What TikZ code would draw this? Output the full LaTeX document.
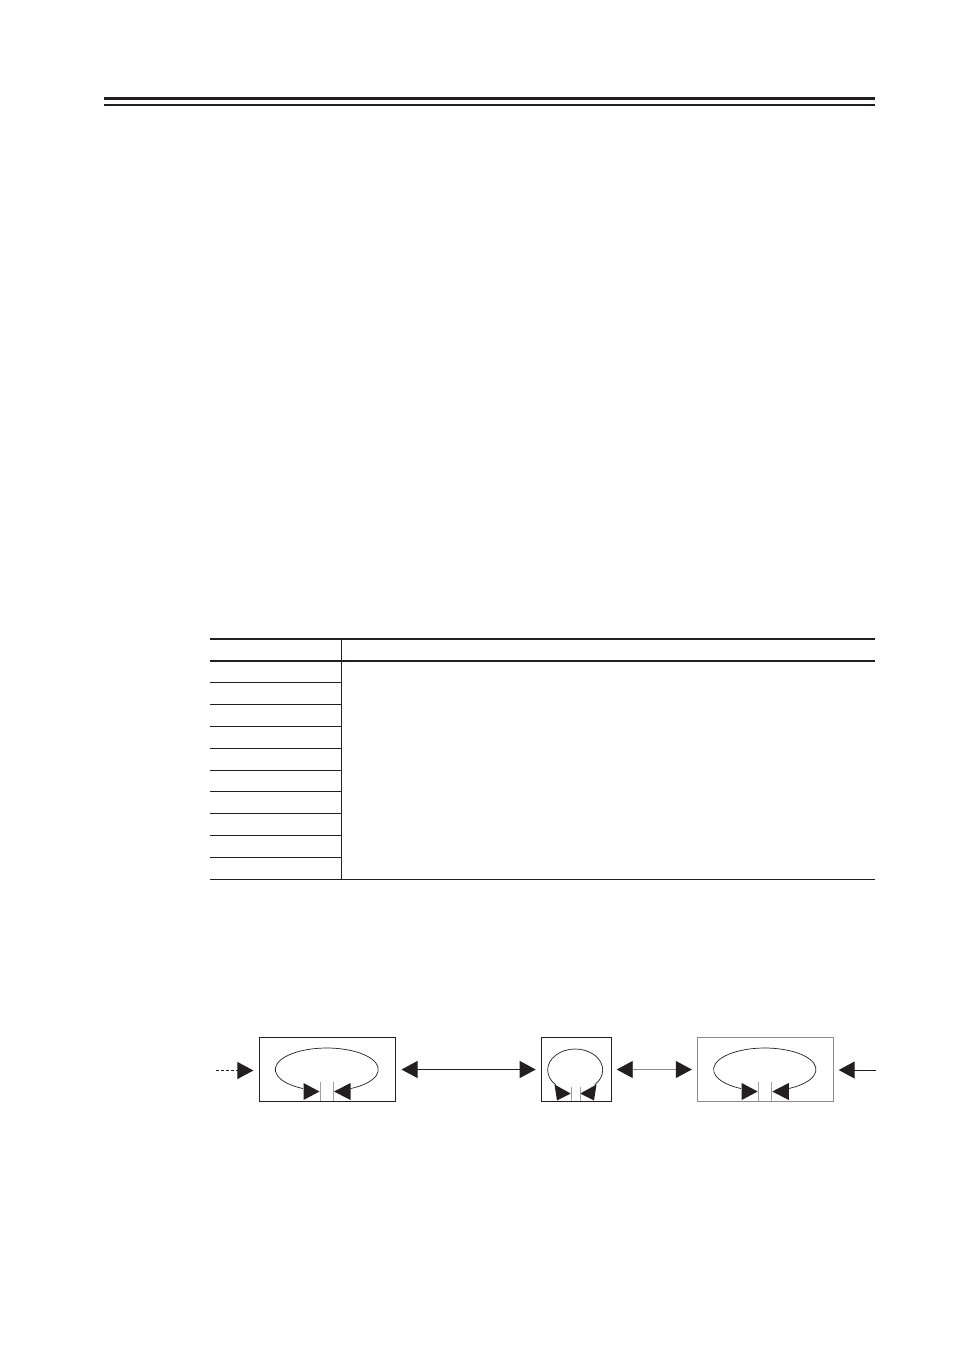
\documentclass[tikz,border=0pt]{standalone}
\usetikzlibrary{arrows.meta}
\definecolor{ink}{HTML}{231F20}
\definecolor{greyline}{HTML}{8C8C8C}
\definecolor{barline}{HTML}{A0A0A0}
\begin{document}
\begin{tikzpicture}[x=1pt,y=-1pt,
  box/.style={draw=ink,line width=1pt,minimum height=64.4pt,inner sep=0pt,outer sep=0pt},
  loopline/.style={draw=ink,line width=0.7pt},
  bar/.style={draw=barline,line width=0.8pt},
  tipfill/.style={fill=ink},
  conn/.style={draw=ink,line width=1pt,{Triangle[length=16pt,width=17pt,color=ink]}-{Triangle[length=16pt,width=17pt,color=ink]}},
  inarrow/.style={draw=ink,line width=1pt,-{Triangle[length=16pt,width=17pt]}},
  rowline/.style={draw=ink,line width=1pt},
  heavyrule/.style={draw=ink,line width=2pt}]
\useasboundingbox (0,0) rectangle (954,1350);
\fill[white] (0,0) rectangle (954,1350);

% header rules
\draw[ink,line width=3.7pt] (104.3,98.5) -- (875,98.5);
\draw[ink,line width=2pt] (104.3,104.7) -- (875,104.7);

% table
\draw[heavyrule] (210,639) -- (875,639);
\draw[heavyrule] (210,661) -- (875,661);
\foreach \k in {1,...,9} {
  \draw[rowline] (210,{661+21.83*\k}) -- (341.3,{661+21.83*\k});
}
\draw[ink,line width=1.2pt] (210,879.3) -- (875,879.3);
\draw[ink,line width=1.3pt] (341.3,638) -- (341.3,880);

% boxes
\node[box,minimum width=135.7pt] (box1) at (327.2,1069.5) {};
\node[box,minimum width=70pt] (box2) at (576.7,1069.5) {};
\node[box,draw=greyline,minimum width=136pt] (box3) at (765.3,1069.5) {};

% box 1 loop
\draw[loopline] (326.8,1069.5) ++(117.8:51.5 and 21.5) arc[start angle=117.8,end angle=422.2,x radius=51.5,y radius=21.5];
\fill[tipfill] (319.5,1091.5) -- ++(-16,-8.5) -- ++(0,17) -- cycle;
\fill[tipfill] (334,1091.5) -- ++(16.5,-8.5) -- ++(0,17) -- cycle;
\draw[bar] (320.2,1082) -- (320.2,1100.5);
\draw[bar] (333.3,1082) -- (333.3,1100.5);

% box 2 loop
\draw[loopline] (575.2,1070) ++(135:27.5 and 21) arc[start angle=135,end angle=405,x radius=27.5,y radius=21];
\fill[tipfill] (570.7,1093.5) -- (554.5,1084.5) -- (557,1100.5) -- cycle;
\fill[tipfill] (580.3,1093.5) -- (596.5,1084.5) -- (594,1100.5) -- cycle;
\draw[bar] (571.2,1087) -- (571.2,1100.5);
\draw[bar] (580,1087) -- (580,1100.5);

% box 3 loop
\draw[loopline] (764.8,1069.5) ++(117.8:51.2 and 21.5) arc[start angle=117.8,end angle=422.2,x radius=51.2,y radius=21.5];
\fill[tipfill] (757.7,1091.5) -- ++(-16,-8.5) -- ++(0,17) -- cycle;
\fill[tipfill] (772.3,1091.5) -- ++(16.5,-8.5) -- ++(0,17) -- cycle;
\draw[bar] (758.2,1082) -- (758.2,1100.5);
\draw[bar] (771.8,1082) -- (771.8,1100.5);

% connectors
\draw[conn,shorten <=6.5pt,shorten >=6pt] (box1.east) -- (box2.west);
\draw[conn,draw=greyline,line width=0.8pt,shorten <=5pt,shorten >=5.5pt] (box2.east) -- (box3.west);
\coordinate (inL) at (216,1070.5);
\coordinate (inR) at (875.7,1070);
\draw[inarrow,dash pattern=on 3pt off 2pt,shorten >=6pt] (inL) -- (inL -| box1.west);
\draw[inarrow,shorten >=5.4pt] (inR) -- (inR -| box3.east);
\end{tikzpicture}
\end{document}
